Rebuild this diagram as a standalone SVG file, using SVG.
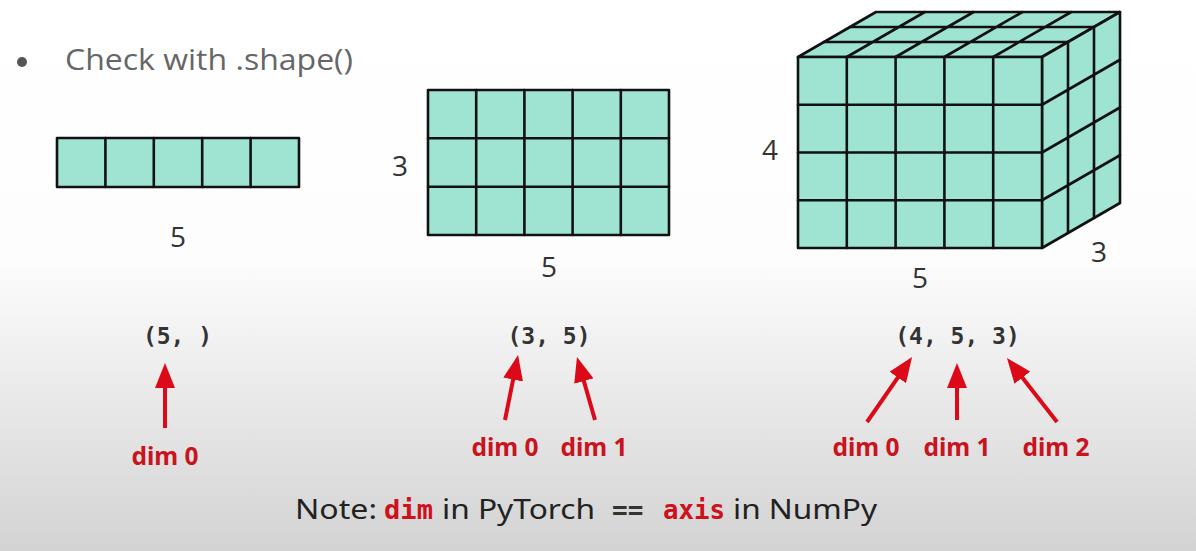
<svg xmlns="http://www.w3.org/2000/svg" width="1196" height="551" viewBox="0 0 1196 551">
<defs>
<linearGradient id="bg" x1="0" y1="0" x2="0" y2="1">
<stop offset="0" stop-color="#ffffff"/>
<stop offset="0.47" stop-color="#fdfdfd"/>
<stop offset="1" stop-color="#d3d3d3"/>
</linearGradient>
<marker id="ah" viewBox="0 0 25 20" refX="10" refY="10" markerWidth="25" markerHeight="20" markerUnits="userSpaceOnUse" orient="auto">
<path d="M0,0 L25,10 L0,20 z" fill="#dc0a18"/>
</marker>
<style>
.cell{fill:#9fe4d2;stroke:#111;stroke-width:2.6;stroke-linejoin:round}
.grid{fill:none;stroke:#111;stroke-width:2.6;stroke-linecap:round}
.num{font-family:"Open Sans","Noto Sans",sans-serif;font-size:28px;fill:#333;text-anchor:middle}
.tup{font-family:"DejaVu Sans Mono","Liberation Mono",monospace;font-size:23px;font-weight:bold;fill:#333;text-anchor:middle}
.dim{font-family:"Noto Sans","Open Sans",sans-serif;font-size:24.5px;font-weight:bold;fill:#c8141e;text-anchor:middle}
.arr{stroke:#dc0a18;stroke-width:4;fill:none;marker-end:url(#ah)}
.note{font-family:"Noto Sans","Open Sans",sans-serif;font-size:28px;fill:#222}
.code{font-family:"DejaVu Sans Mono","Liberation Mono",monospace;font-size:26px;font-weight:bold}
</style>
</defs>
<rect width="1196" height="551" fill="url(#bg)"/>

<g id="title">
<circle cx="22" cy="62" r="5" fill="#555"/>
<text x="65" y="70" font-family="Open Sans, Noto Sans, sans-serif" font-size="30" fill="#666" textLength="288" lengthAdjust="spacingAndGlyphs">Check with .shape()</text>
</g>

<g id="tensor-1d">
<rect class="cell" x="57" y="138" width="242" height="49"/>
<path class="grid" d="M105.4,138V187M153.8,138V187M202.2,138V187M250.6,138V187"/>
<text class="num" x="178" y="247">5</text>
</g>

<g id="tensor-2d">
<rect class="cell" x="428" y="90" width="241" height="145"/>
<path class="grid" d="M476.2,90V235M524.4,90V235M572.6,90V235M620.8,90V235M428,138.3H669M428,186.7H669"/>
<text class="num" x="400" y="176">3</text>
<text class="num" x="549" y="277">5</text>
</g>

<g id="tensor-3d">
<polygon class="cell" points="798,57 1042,57 1120,12 876,12"/>
<polygon class="cell" points="1042,57 1042,248 1120,203 1120,12"/>
<rect class="cell" x="798" y="57" width="244" height="191"/>
<path class="grid" d="M846.8,57V248M895.6,57V248M944.4,57V248M993.2,57V248M798,104.75H1042M798,152.5H1042M798,200.25H1042"/>
<path class="grid" d="M824,42H1068M850,27H1094M846.8,57L924.8,12M895.6,57L973.6,12M944.4,57L1022.4,12M993.2,57L1071.2,12"/>
<path class="grid" d="M1068,42V233M1094,27V218M1042,104.75L1120,59.75M1042,152.5L1120,107.5M1042,200.25L1120,155.25"/>
<text class="num" x="770" y="160">4</text>
<text class="num" x="920" y="288">5</text>
<text class="num" x="1099" y="262">3</text>
</g>

<g id="shape-1d">
<text class="tup" x="177.5" y="344" xml:space="preserve">(5, )</text>
<text class="dim" x="165" y="465">dim 0</text>
</g>
<g id="shape-2d">
<text class="tup" x="549" y="344" xml:space="preserve">(3, 5)</text>
<text class="dim" x="505" y="456">dim 0</text>
<text class="dim" x="594" y="456">dim 1</text>
</g>
<g id="shape-3d">
<text class="tup" x="957.5" y="344" xml:space="preserve">(4, 5, 3)</text>
<text class="dim" x="866" y="456">dim 0</text>
<text class="dim" x="957" y="456">dim 1</text>
<text class="dim" x="1056" y="456">dim 2</text>
</g>

<g id="connectors">
<line class="arr" x1="165" y1="428" x2="165" y2="378"/>
<line class="arr" x1="505" y1="420" x2="515.1" y2="369.7"/>
<line class="arr" x1="595" y1="420" x2="581.1" y2="371.4"/>
<line class="arr" x1="867" y1="422" x2="903.5" y2="369.3"/>
<line class="arr" x1="957" y1="420" x2="957" y2="378"/>
<line class="arr" x1="1057" y1="422" x2="1016.2" y2="369.8"/>
</g>

<g id="note">
<text class="note" x="295" y="519" textLength="82" lengthAdjust="spacingAndGlyphs">Note:</text>
<text class="code" x="384" y="519" fill="#d0101a" textLength="49" lengthAdjust="spacingAndGlyphs">dim</text>
<text class="note" x="442" y="519" textLength="153" lengthAdjust="spacingAndGlyphs">in PyTorch</text>
<text class="code" x="612" y="519" fill="#333" font-weight="normal">==</text>
<text class="code" x="663" y="519" fill="#d0101a" textLength="62" lengthAdjust="spacingAndGlyphs">axis</text>
<text class="note" x="733" y="519" textLength="144" lengthAdjust="spacingAndGlyphs">in NumPy</text>
</g>
</svg>
